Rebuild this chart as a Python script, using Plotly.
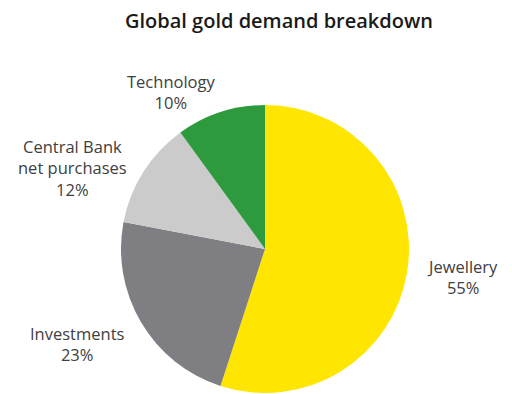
import plotly.graph_objects as go

# Share of global gold demand by sector (%)
categories = ["Jewellery", "Investments", "Central Bank<br>net purchases", "Technology"]
shares = [55, 23, 12, 10]
colors = ["#FFE600", "#7F7F83", "#CBCBCB", "#2C9A3D"]

W, H = 512, 394
cx, cy, r = 265, 249, 144

fig = go.Figure(go.Pie(
    labels=categories,
    values=shares,
    sort=False,
    direction="clockwise",
    rotation=0,
    marker=dict(colors=colors, line=dict(width=0)),
    textinfo="none",
    hoverinfo="label+percent",
    showlegend=False,
    domain=dict(x=[(cx - r) / W, (cx + r) / W], y=[1 - (cy + r) / H, 1 - (cy - r) / H]),
))

# Label anchors (pixel coordinates, top-left origin)
label_pos = [(462, 277), (77, 344), (72, 168), (171, 92)]
font = dict(family="Open Sans, sans-serif", size=16.5, color="#404040")
for name, val, (x, y) in zip(categories, shares, label_pos):
    fig.add_annotation(
        x=x / W, y=1 - y / H, xref="paper", yref="paper",
        text=f"{name}<br>{val}%", showarrow=False, font=font,
        align="center", xanchor="center", yanchor="middle",
    )

fig.add_annotation(
    x=279 / W, y=1 - 20 / H, xref="paper", yref="paper",
    text="Global gold demand breakdown", showarrow=False,
    font=dict(family="Open Sans, sans-serif", size=20, color="#1a1a1a", weight=600),
    xanchor="center", yanchor="middle",
)

fig.update_layout(
    width=W, height=H,
    margin=dict(l=0, r=0, t=0, b=0),
    paper_bgcolor="white", plot_bgcolor="white",
)

fig.write_html("out.html")
